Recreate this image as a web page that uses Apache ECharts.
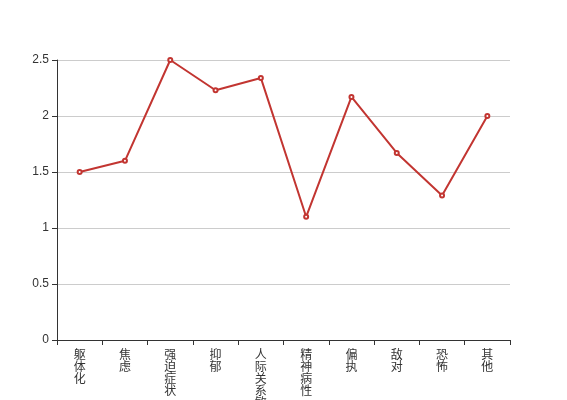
<!DOCTYPE html>
<html><head><meta charset="utf-8">
<script src="https://cdn.jsdelivr.net/npm/echarts@6/dist/echarts.min.js"></script>
<style>html,body{margin:0;padding:0;background:#fff}#c{width:567px;height:400px}</style>
</head><body><div id="c"></div>
<script>
var categories = ['躯体化','焦虑','强迫症状','抑郁','人际关系敏感','精神病性','偏执','敌对','恐怖','其他'];
var values = [1.5, 1.6, 2.5, 2.23, 2.34, 1.1, 2.17, 1.67, 1.29, 2.0];
var chart = echarts.init(document.getElementById('c'));
chart.setOption({
  animation: false,
  grid: {left: 57, right: 57, top: 60, bottom: 60, containLabel: false, outerBoundsMode: 'none'},
  xAxis: {
    type: 'category', data: categories, boundaryGap: true,
    axisLine: {lineStyle: {color: '#333'}},
    axisTick: {show: true, alignWithLabel: false, lineStyle: {color: '#333'}},
    axisLabel: {interval: 0, color: '#333', fontSize: 12, lineHeight: 12,
      fontFamily: 'Noto Sans CJK SC',
      formatter: function (v) { return v.split('').join('\n'); }}
  },
  yAxis: {
    type: 'value', min: 0, max: 2.5, interval: 0.5,
    axisLine: {show: true, lineStyle: {color: '#333'}},
    axisTick: {show: true, lineStyle: {color: '#333'}},
    axisLabel: {color: '#333', fontSize: 12, fontFamily: 'Liberation Sans'},
    splitLine: {lineStyle: {color: '#ccc'}}
  },
  series: [{
    type: 'line', data: values,
    symbol: 'emptyCircle', symbolSize: 4,
    itemStyle: {color: '#c23531'},
    lineStyle: {color: '#c23531', width: 2}
  }]
});
</script></body></html>
